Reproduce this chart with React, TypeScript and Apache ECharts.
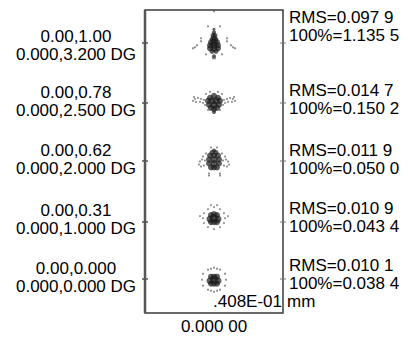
import React, { useEffect, useRef } from "react";
import * as echarts from "echarts";

// Field labels (relative field, angle) and spot statistics
const relFields = ["0.00,1.00", "0.00,0.78", "0.00,0.62", "0.00,0.31", "0.00,0.000"];
const fieldAngles = ["0.000,3.200 DG", "0.000,2.500 DG", "0.000,2.000 DG", "0.000,1.000 DG", "0.000,0.000 DG"];
const rmsRadius = ["0.097 9", "0.014 7", "0.011 9", "0.010 9", "0.010 1"];
const geoRadius = ["1.135 5", "0.150 2", "0.050 0", "0.043 4", "0.038 4"];
const scaleBarLabel = ".408E-01";
const scaleUnit = "mm";
const focusLabel = "0.000 00";

// Spot points per field: [dx, dy, size] (dense core) and [dx, dy] (ray dots)
const spot320Core = [
  [0, 11, 3], [0, 8, 4], [-1, 5, 5], [1, 5, 5], [0, 2, 6], [-2, 1, 5], [2, 1, 5],
  [-3, -2, 6], [0, -2, 7], [3, -2, 6], [-4, -5, 6], [0, -5, 7], [4, -5, 6],
  [-4, -8, 6], [0, -8, 7], [4, -8, 6], [-2, -11, 5], [2, -11, 5], [0, -16, 4],
];
const spot320Rays = [
  [1, -18], [-1, -18], [-21, -8], [-19, -7], [-17, -5], [17, -5], [19, -7], [21, -8],
  [-13, -1], [-13, 2], [13, -1], [13, 2], [0, 29], [-6, 14], [6, 14], [-8, -14], [8, -14],
];
const spot250Core = [
  [-4, 3, 6], [0, 5, 6], [4, 3, 6], [-6, 0, 6], [-2, 0, 7], [2, 0, 7], [6, 0, 6],
  [-5, -4, 6], [0, -4, 7], [5, -4, 6], [-3, -7, 6], [0, -8, 6], [3, -7, 6], [0, -11, 4],
];
const spot250Rays = [
  [-10, 1], [-13, 2], [-16, 3], [-19, 2], [-21, 0], [-18, -1], [-14, -1], [-11, -2], [-20, 4],
  [10, 1], [13, 2], [16, 3], [19, 2], [21, 0], [18, -1], [14, -1], [11, -2], [20, 4],
  [-8, 7], [8, 7], [-4, 9], [4, 9], [-6, -9], [6, -9], [-9, -4], [9, -4],
];
const spot200Core = [
  [-2, 9, 5], [2, 9, 5], [0, 11, 4], [-4, 6, 6], [0, 6, 6], [4, 6, 6],
  [-5, 2, 6], [0, 2, 7], [5, 2, 6], [-5, -2, 6], [0, -2, 7], [5, -2, 6],
  [-3, -6, 6], [0, -6, 6], [3, -6, 6],
];
const spot200Rays = [
  [-9, 1], [-12, 2], [-14, 0], [-15, -3], [-13, -5], [-10, -4],
  [9, 1], [12, 2], [14, 0], [15, -3], [13, -5], [10, -4],
  [-5, -12], [-5, -14], [6, -12], [6, -14], [-8, 8], [8, 8], [-11, 5], [11, 5], [-3, 14], [3, 14],
];
const spot100Core = [
  [-3, 7, 6], [3, 7, 6], [-4, 3, 7], [0, 4, 8], [4, 3, 7], [-3, 0, 6], [3, 0, 6], [0, 0, 6], [0, 8, 6],
];
const spot100Rays = [
  [0, 15], [6, 13], [10, 9], [11, 4], [10, -1], [6, -5], [0, -7], [-6, -5], [-10, -1], [-11, 4], [-10, 9], [-6, 13],
  [-3, 17], [3, 17], [-14, 6], [14, 6],
];
const spot000Core = [
  [-3, 6, 6], [3, 6, 6], [-4, 2, 7], [0, 3, 8], [4, 2, 7], [-3, -1, 6], [3, -1, 6], [0, -1, 6], [0, 6, 6],
];
const spot000Rays = [
  [0, 15], [6, 13], [11, 9], [12, 3], [11, -3], [6, -7], [0, -9], [-6, -7], [-11, -3], [-12, 3], [-11, 9], [-6, 13],
  [-3, 14], [3, 14], [-3, -8], [3, -8],
];

const spotCores = [spot320Core, spot250Core, spot200Core, spot100Core, spot000Core];
const spotRays = [spot320Rays, spot250Rays, spot200Rays, spot100Rays, spot000Rays];

const FONT = "'Liberation Sans', Arial, sans-serif";

export default function App() {
  const ref = useRef<HTMLDivElement>(null);
  useEffect(() => {
    if (!ref.current) return;
    const chart = echarts.init(ref.current, null, { renderer: "svg" });
    const boxL = 145, boxT = 10, boxW = 138, boxH = 303;
    const rowH = boxH / 5;
    const grids: any[] = [], xAxes: any[] = [], yAxes: any[] = [], series: any[] = [];
    for (let i = 0; i < 5; i++) {
      grids.push({ left: boxL, top: boxT + i * rowH, width: boxW, height: rowH });
      xAxes.push({ gridIndex: i, type: "value", min: -69, max: 69, show: false });
      yAxes.push({ gridIndex: i, type: "value", min: -rowH / 2, max: rowH / 2, show: false });
      series.push({
        type: "scatter", xAxisIndex: i, yAxisIndex: i, data: spotCores[i],
        symbolSize: (v: number[]) => v[2],
        itemStyle: { color: "#1a1a1a", opacity: 0.7 }, silent: true,
      });
      series.push({
        type: "scatter", xAxisIndex: i, yAxisIndex: i, data: spotRays[i],
        symbolSize: 2.2,
        itemStyle: { color: "#444", opacity: 0.6 }, silent: true,
      });
    }
    const leftMid = [45, 101, 159, 219, 277];
    const rightMid = [26, 99, 159, 217, 274];
    const tickY = [43, 103, 161, 222, 279];
    const graphics: any[] = [];
    const txt = (x: number, y: number, text: string, align: string) => ({
      type: "text", x, y, z: 10,
      style: { text, font: `17px ${FONT}`, fill: "#000", align, verticalAlign: "middle", lineHeight: 17 },
    });
    graphics.push({ type: "rect", shape: { x: boxL, y: boxT, width: boxW, height: boxH }, style: { fill: "none", stroke: "#3a3a3a", lineWidth: 1.5 }, z: 10 });
    graphics.push({ type: "line", shape: { x1: boxL, y1: boxT, x2: boxL, y2: boxT + boxH }, style: { stroke: "#555", lineWidth: 2.5 }, z: 10 });
    for (let i = 0; i < 5; i++) {
      graphics.push({ type: "line", shape: { x1: boxL - 3, y1: tickY[i], x2: boxL + 3, y2: tickY[i] }, style: { stroke: "#555", lineWidth: 1.5 }, z: 10 });
      graphics.push({ type: "line", shape: { x1: boxL + boxW - 3, y1: tickY[i], x2: boxL + boxW + 3, y2: tickY[i] }, style: { stroke: "#777", lineWidth: 1 }, z: 10 });
      graphics.push(txt(76, leftMid[i] - 9, relFields[i], "center"));
      graphics.push(txt(76, leftMid[i] + 9, fieldAngles[i], "center"));
      graphics.push(txt(289, rightMid[i] - 9, "RMS=" + rmsRadius[i], "left"));
      graphics.push(txt(289, rightMid[i] + 9, "100%=" + geoRadius[i], "left"));
    }
    graphics.push(txt(282, 301, scaleBarLabel, "right"));
    graphics.push(txt(287, 301, scaleUnit, "left"));
    graphics.push(txt(214, 326, focusLabel, "center"));

    chart.setOption({
      animation: false,
      backgroundColor: "#fff",
      grid: grids, xAxis: xAxes, yAxis: yAxes, series,
      graphic: graphics,
    });
    return () => chart.dispose();
  }, []);
  return <div ref={ref} style={{ position: "fixed", left: 0, top: 0, width: 408, height: 338 }} />;
}
